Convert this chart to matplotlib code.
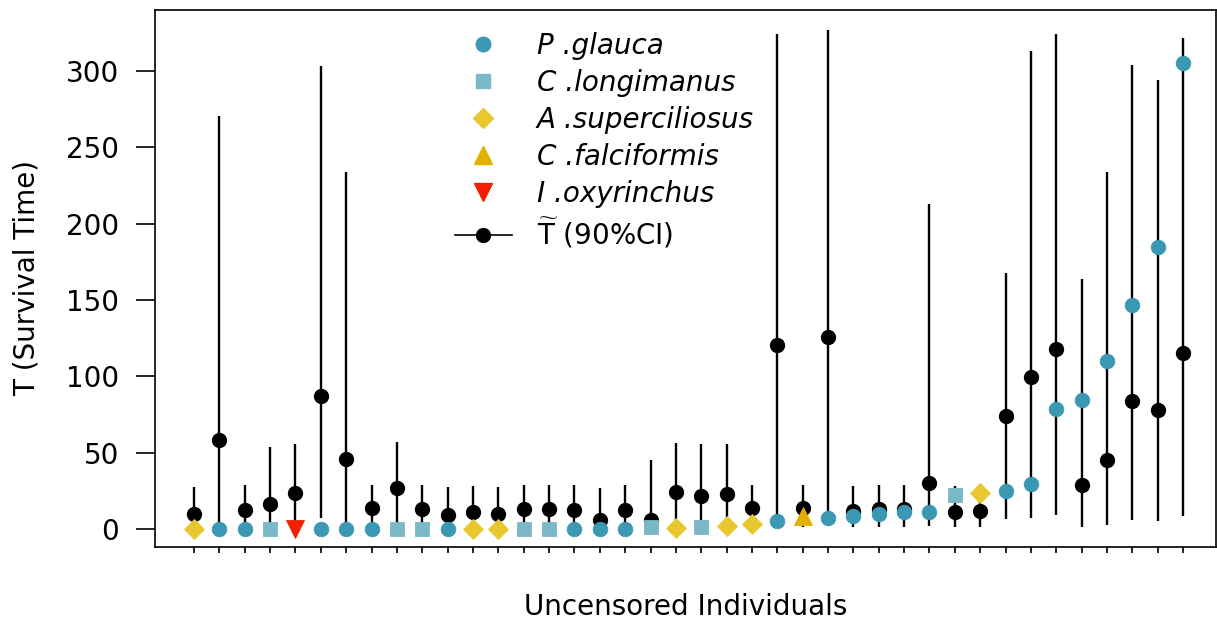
import matplotlib
matplotlib.use("Agg")
import matplotlib.pyplot as plt
from matplotlib.lines import Line2D
import numpy as np

# species of each uncensored individual (in plotting order)
species = ["A", "P", "P", "Cl", "I", "P", "P", "P", "Cl", "Cl",
           "P", "A", "A", "Cl", "Cl", "P", "P", "P", "Cl", "A",
           "Cl", "A", "A", "P", "Cf", "P", "P", "P", "P", "P",
           "Cl", "A", "P", "P", "P", "P", "P", "P", "P", "P"]

# observed survival time T
t_obs = [0, 0, 0, 0, 0, 0, 0, 0, 0, 0,
         0, 0, 0, 0, 0, 0, 0, 0, 1, 0.5,
         1, 1.9, 3.5, 5, 8.2, 7, 8.7, 9.8, 11.2, 11.2,
         22.2, 23.4, 25.2, 29.2, 78.3, 84.2, 110, 146.8, 184.7, 305]

# estimated T-tilde with 90% CI
t_est = [10, 58.5, 12.4, 16.4, 23.4, 87, 46, 13.6, 27, 13,
         9.4, 11.2, 10, 12.9, 12.9, 12.2, 5.8, 12.2, 5.8, 24.5,
         21.7, 22.7, 13.6, 120.4, 13.6, 125.8, 11.7, 12.9, 12.9, 30.4,
         11.2, 11.7, 74.3, 99.4, 118, 28.8, 45, 83.7, 77.9, 115]
ci_lo = [0.5, 0, 0.5, 0.5, 0.5, 7, 0.5, 0.5, 0.5, 0.5,
         0.5, 0.5, 0.5, 0.5, 0.5, 0.5, 0.5, 0.5, 0.5, 1,
         1, 1, 2, 3, 1, 3, 1, 1, 1, 1.9,
         1, 1, 6.5, 7, 9.4, 1.6, 2.8, 5.8, 5.1, 8.7]
ci_hi = [27.5, 270.5, 29, 53.8, 56, 303.5, 234, 29, 57, 29,
         27.6, 28, 27.6, 29, 29, 29, 26.7, 29, 45.4, 56.6,
         55.4, 56, 29, 324, 29, 327, 28, 29, 29, 212.8,
         28, 28, 168, 313, 324.5, 163.7, 233.8, 304, 294, 321.5]

# marker style per species
styles = {
    "P":  dict(marker="o", color="#3b98b3", ms=10.5, label="P .glauca"),
    "Cl": dict(marker="s", color="#7bb8c7", ms=9.5, label="C .longimanus"),
    "A":  dict(marker="D", color="#e8c82e", ms=10.5, label="A .superciliosus"),
    "Cf": dict(marker="^", color="#e2b000", ms=13, label="C .falciformis"),
    "I":  dict(marker="v", color="#f22000", ms=13, label="I .oxyrinchus"),
}
order = ["P", "Cl", "A", "Cf", "I"]

plt.rcParams["font.family"] = "DejaVu Sans"
plt.rcParams["font.size"] = 20

fig = plt.figure(figsize=(12.17, 6.19), dpi=100)
ax = fig.add_axes([155 / 1217, 1 - 547 / 619, (1216 - 155) / 1217, (547 - 10) / 619])

x = np.arange(1, len(t_est) + 1)

ax.vlines(x, ci_lo, ci_hi, color="black", lw=1.7, zorder=2)
ax.plot(x, t_est, "o", color="black", ms=10, zorder=3)

sp = np.array(species)
for key in order:
    st = styles[key]
    m = sp == key
    ax.plot(x[m], np.array(t_obs)[m], st["marker"], color=st["color"], ms=st["ms"],
            mec=st["color"], mew=0.6, zorder=4, ls="none")

ax.set_xlim(-0.54, 41.3)
ax.set_ylim(-11.8, 340)
ax.set_xticks(x)
ax.set_xticklabels([])
ax.set_yticks(np.arange(0, 301, 50))
ax.tick_params(axis="y", length=13.7, width=1.2, pad=12)
ax.tick_params(axis="x", length=4.5, width=1.2)
for s in ax.spines.values():
    s.set_linewidth(1.2)

ax.set_ylabel("T (Survival Time)", labelpad=18)
ax.set_xlabel("Uncensored Individuals", labelpad=25)

handles = []
for key in order:
    st = styles[key]
    handles.append(Line2D([], [], marker=st["marker"], color=st["color"], ms=st["ms"],
                          ls="none"))
handles.append(Line2D([], [], marker="o", color="black", ms=10, lw=1.2))
labels = [styles[k]["label"] for k in order] + [r"$\widetilde{\mathrm{T}}$ (90%CI)"]

leg = fig.legend(handles, labels, loc="upper left", bbox_to_anchor=(455 / 1217, 1 - 32 / 619),
                 frameon=False, borderpad=0, borderaxespad=0, handlelength=2.05,
                 handletextpad=0.9, labelspacing=0.32, fontsize=20)
for t in leg.get_texts()[:5]:
    t.set_style("italic")

fig.savefig("out.png", dpi=100)
